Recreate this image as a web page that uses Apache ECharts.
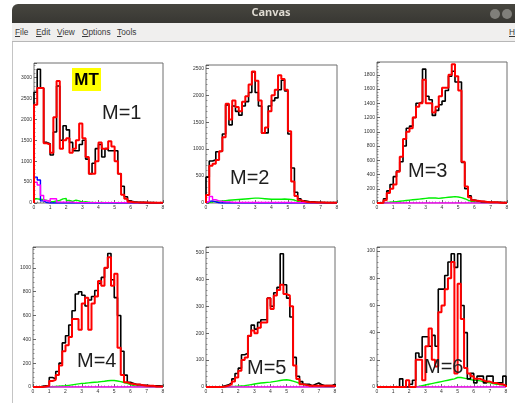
<!DOCTYPE html>
<html>
<head>
<meta charset="utf-8">
<script src="https://cdn.jsdelivr.net/npm/echarts@6/dist/echarts.min.js"></script>
<style>
  body { margin: 0; width: 515px; height: 403px; overflow: hidden; background: #fff; position: relative; }
  #chart { position: absolute; left: 0; top: 0; width: 515px; height: 403px; }
  .titlebar { position: absolute; left: 12px; top: 4px; width: 515px; height: 19px; z-index: 2;
    background: linear-gradient(#47463f, #383733); border-radius: 6px 0 0 0; }
  .titlebar .name { position: absolute; left: 0; width: 518px; top: 0; line-height: 19px; text-align: center;
    color: #dfdbd2; font: bold 11px 'Noto Sans', sans-serif; }
  .btn { position: absolute; top: 9px; width: 10px; height: 10px; border-radius: 50%; background: #807f7a; z-index: 3; }
  .menubar { position: absolute; left: 12px; top: 23px; width: 503px; height: 18px; z-index: 2;
    background: #f0efee; border-bottom: 1px solid #b7b7b7; font: 8.3px 'Liberation Sans', sans-serif; color: #3a3a3a; }
  .menubar span { position: absolute; top: 4px; }
  .menubar u { text-decoration: underline; }
  .leftedge { position: absolute; left: 12px; top: 42px; width: 1px; height: 361px; background: #c4c4c4; z-index: 2; }
</style>
</head>
<body>
<div class="titlebar"><div class="name">Canvas</div></div>
<div class="btn" style="left:490px"></div>
<div class="btn" style="left:502px"></div>
<div class="menubar">
  <span style="left:3px"><u>F</u>ile</span>
  <span style="left:24px"><u>E</u>dit</span>
  <span style="left:45px"><u>V</u>iew</span>
  <span style="left:70px"><u>O</u>ptions</span>
  <span style="left:105px"><u>T</u>ools</span>
  <span style="left:497px"><u>H</u></span>
</div>
<div class="leftedge"></div>
<div id="chart"></div>
<script>
// bins of 0.2 from 0 to 8 (40 bins)
const binWidth = 0.2
const xTicks = [0, 1, 2, 3, 4, 5, 6, 7, 8]

// M=1
const p1Black = [2650,3200,2750,1450,1420,1150,1700,2800,1500,1850,1750,1450,1250,1250,1400,1500,1050,700,950,1300,1400,1100,1300,1250,1250,1250,700,400,150,50,30,20,15,15,10,10,10,5,5,5]
const p1Red = [2350,2750,2750,1430,1400,1200,2050,2920,1300,1500,1550,1200,1300,1500,1900,1550,1100,700,700,1000,1450,1300,1300,1480,1350,1000,700,200,100,30,20,15,10,10,10,5,5,5,5,5]
const p1Green = [100,90,80,60,40,30,50,60,100,110,60,40,70,50,20,30,20,15,10,10,15,10,10,10,5,5,5,5,5,5,5,5,5,5,5,5,5,5,5,5]
const p1Magenta = [500,430,180,60,30,100,100,20,20,20,20,20,10,10,10,10,10,10,10,10,10,10,10,10,10,10,5,5,5,5,5,5,5,5,5,5,5,5,5,5]
const p1Blue = [620,550,50,10,0,0,0,0,0,0,0,0,0,0,0,0,0,0,0,0,0,0,0,0,0,0,0,0,0,0,0,0,0,0,0,0,0,0,0,0]

// M=2
const p2Black = [480,780,800,950,960,1280,1820,1450,1800,1700,1630,1800,1880,2050,2430,2050,1800,1300,1300,1800,1900,1950,2100,2280,2080,1280,650,200,80,40,30,20,20,15,15,10,10,10,10,10]
const p2Red = [150,690,730,800,960,1220,1840,1550,1900,1780,1700,1880,1980,2200,2440,2270,1900,1300,1400,1700,2000,2100,2370,2300,2100,1330,400,130,50,30,20,15,15,10,10,10,5,5,5,5]
const p2Green = [10,20,30,35,40,45,50,55,60,65,70,75,80,85,90,90,85,80,75,70,70,70,70,75,70,65,55,30,15,5,3,2,2,1,1,1,1,0,0,0]
const p2Magenta = [30,120,60,40,30,20,20,15,10,10,10,10,10,10,10,10,10,10,10,10,10,10,10,10,10,10,5,5,5,5,5,5,5,5,5,5,5,5,5,5]
const p2Blue = [30,40,20,5,0,0,0,0,0,0,0,0,0,0,0,0,0,0,0,0,0,0,0,0,0,0,0,0,0,0,0,0,0,0,0,0,0,0,0,0]

// M=3
const p3Black = [0,10,60,170,260,370,450,580,800,1050,1080,1200,1400,1420,1880,1500,1450,1230,1300,1380,1430,1580,1780,1850,1700,1700,570,200,100,40,30,20,20,15,10,10,10,10,5,5]
const p3Red = [0,5,40,140,200,260,440,650,900,1000,1050,1200,1350,1400,1730,1400,1400,1270,1350,1500,1620,1620,1800,1950,1780,1580,580,230,80,40,30,25,20,15,10,10,10,5,5,5]
const p3Green = [0,0,5,10,15,20,25,30,35,40,45,50,55,60,65,70,70,70,65,70,75,80,85,90,85,75,60,40,25,15,8,5,3,2,1,1,0,0,0,0]
const p3Magenta = [0,0,0,0,0,0,0,0,0,0,0,0,0,0,0,0,0,0,0,0,0,0,0,0,0,0,0,0,0,0,0,0,0,0,0,0,0,0,0,0]

// M=4
const p4Black = [0,0,5,10,10,80,70,130,200,370,430,520,640,780,800,770,680,730,760,810,870,920,1000,1120,900,750,600,300,100,40,30,20,20,15,15,10,10,10,10,5]
const p4Red = [0,0,0,5,10,50,60,100,180,300,350,420,570,570,480,700,750,480,700,760,890,850,1000,1090,850,950,330,100,40,30,25,20,20,15,10,10,10,5,5,5]
const p4Green = [0,0,0,0,0,2,4,6,8,10,14,18,22,26,30,32,35,38,40,42,45,48,52,55,55,50,45,38,30,20,12,8,5,3,2,1,1,0,0,0]
const p4Magenta = [0,0,0,0,0,0,0,0,0,0,0,0,0,0,0,0,0,0,0,0,0,0,0,0,0,0,0,0,0,0,0,0,0,0,0,0,0,0,0,0]

// M=5
const p5Black = [0,0,0,0,2,5,8,15,30,50,70,120,125,190,230,215,240,250,250,330,300,350,370,495,380,330,260,110,40,20,10,10,5,10,15,8,5,5,5,10]
const p5Red = [0,0,0,0,0,2,5,10,20,35,60,100,110,190,210,200,220,240,240,330,290,340,360,380,345,340,300,80,30,10,8,5,5,5,5,5,5,5,5,5]
const p5Green = [0,0,0,0,0,0,0,1,2,3,4,5,7,9,11,13,15,16,17,18,20,22,24,26,27,25,22,18,14,10,7,5,3,2,1,1,0,0,0,0]
const p5Magenta = [0,0,0,0,0,0,0,0,0,0,0,0,0,0,0,0,0,0,0,0,0,0,0,0,0,0,0,0,0,0,0,0,0,0,0,0,0,0,0,0]

// M=6
const p6Black = [0,0,0,0,0,0,0,6,0,0,2,5,25,22,37,37,30,38,30,72,72,82,92,98,88,98,60,40,6,10,3,8,8,3,8,8,3,3,3,8]
const p6Red = [0,0,0,0,0,0,0,0,0,5,0,0,20,20,5,30,43,20,15,55,60,72,80,92,10,76,50,14,10,8,6,6,5,4,4,3,3,2,2,1]
const p6Green = [0,0,0,0,0,0,0,0,0,0,0,0,0.5,1,1.5,2,2.5,3,3.5,4,4.5,5,5.5,6,7,7,6.5,6,5.5,5,5,4.5,4,3.5,3,2.5,2,2,1.5,1]
const p6Magenta = [0,0,0,0,0,0,0,0,0,0,0,0,0,0,0,0,0,0,0,0,0,0,0,0,0,0,0,0,0,0,0,0,0,0,0,0,0,0,0,0]

const labels = ['M=1', 'M=2', 'M=3', 'M=4', 'M=5', 'M=6']

const GREEN = '#00f000', BLUE = '#0000ff', MAGENTA = '#ff00ff', BLACK = '#000', RED = '#ff0000'

const pads = [
  { left: 34, top: 63, w: 129, h: 140, yMax: 3350, yStep: 500, lx: 102, ly: 113,
    hists: [[p1Green, GREEN], [p1Blue, BLUE], [p1Magenta, MAGENTA], [p1Black, BLACK], [p1Red, RED]] },
  { left: 206, top: 65, w: 131, h: 138, yMax: 2560, yStep: 500, lx: 230, ly: 178,
    hists: [[p2Green, GREEN], [p2Blue, BLUE], [p2Magenta, MAGENTA], [p2Black, BLACK], [p2Red, RED]] },
  { left: 377, top: 62, w: 130, h: 141, yMax: 1980, yStep: 200, lx: 408, ly: 171,
    hists: [[p3Green, GREEN], [p3Magenta, MAGENTA], [p3Black, BLACK], [p3Red, RED]] },
  { left: 33, top: 247, w: 130, h: 140, yMax: 1175, yStep: 200, lx: 77, ly: 361,
    hists: [[p4Green, GREEN], [p4Magenta, MAGENTA], [p4Black, BLACK], [p4Red, RED]] },
  { left: 206, top: 247, w: 129, h: 140, yMax: 520, yStep: 100, lx: 247, ly: 368,
    hists: [[p5Green, GREEN], [p5Magenta, MAGENTA], [p5Black, BLACK], [p5Red, RED]] },
  { left: 377, top: 247, w: 129, h: 140, yMax: 103, yStep: 20, lx: 424, ly: 367,
    hists: [[p6Green, GREEN], [p6Magenta, MAGENTA], [p6Black, BLACK], [p6Red, RED]] }
]

// histogram outline: bin edges as points, drawn as steps
function histData(vals) {
  const pts = [[0, 0]]
  vals.forEach((v, i) => pts.push([i * binWidth, v]))
  pts.push([vals.length * binWidth, vals[vals.length - 1]])
  pts.push([vals.length * binWidth, 0])
  return pts
}

const chart = echarts.init(document.getElementById('chart'), null, { renderer: 'canvas' })

const grid = [], xAxis = [], yAxis = [], series = [], graphic = []
const tickFont = { fontSize: 5, color: '#333', fontFamily: 'Liberation Sans', formatter: v => String(v) }

pads.forEach((p, i) => {
  grid.push({ left: p.left, top: p.top, width: p.w, height: p.h, show: true,
    borderColor: '#6e6e6e', borderWidth: 1, backgroundColor: 'transparent' })
  xAxis.push({ type: 'value', gridIndex: i, min: xTicks[0], max: xTicks[xTicks.length - 1], interval: 1,
    axisLine: { show: false }, splitLine: { show: false },
    axisTick: { inside: true, length: 3, lineStyle: { color: '#444', width: 0.8 } },
    minorTick: { show: true, splitNumber: 5, length: 1.5, lineStyle: { color: '#555', width: 0.6 } },
    axisLabel: Object.assign({ margin: 2 }, tickFont) })
  yAxis.push({ type: 'value', gridIndex: i, min: 0, max: p.yMax, interval: p.yStep,
    axisLine: { show: false }, splitLine: { show: false },
    axisTick: { inside: true, length: 3, lineStyle: { color: '#444', width: 0.8 } },
    minorTick: { show: true, splitNumber: 5, length: 1.5, lineStyle: { color: '#555', width: 0.6 } },
    axisLabel: Object.assign({ margin: 2, showMaxLabel: false }, tickFont) })
  p.hists.forEach(([vals, color]) => {
    series.push({ type: 'line', xAxisIndex: i, yAxisIndex: i, step: 'end', data: histData(vals),
      symbol: 'none', silent: true, animation: false,
      lineStyle: { color: color, width: color === RED ? 2 : (color === BLACK ? 1.6 : 1.4) } })
  })
  graphic.push({ type: 'text', x: p.lx, y: p.ly, z: 10,
    style: { text: labels[i], font: '20px "Liberation Sans", Arial, sans-serif', fill: '#1e1e1e',
      textVerticalAlign: 'middle', verticalAlign: 'middle' } })
})

// MT tag on first pad
graphic.push({ type: 'rect', shape: { x: 72, y: 68, width: 29, height: 23 }, style: { fill: '#ffff00' }, z: 10 })
graphic.push({ type: 'text', x: 86.5, y: 80, z: 11,
  style: { text: 'MT', font: 'bold 17px "Liberation Sans", Arial, sans-serif', fill: '#000',
    textAlign: 'center', align: 'center', textVerticalAlign: 'middle', verticalAlign: 'middle' } })

chart.setOption({ animation: false, grid, xAxis, yAxis, series, graphic })
</script>
</body>
</html>
